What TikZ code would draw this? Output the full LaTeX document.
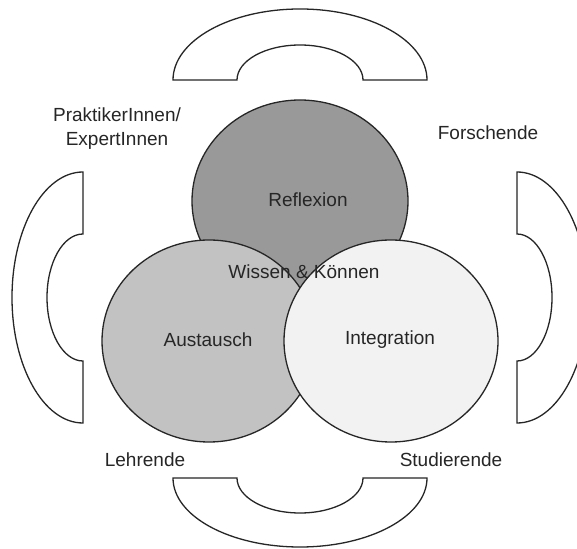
\documentclass[tikz,border=0pt]{standalone}
\usepackage{fontspec}
\setmainfont{Liberation Sans}
\begin{document}
\begin{tikzpicture}[x=1pt,y=1pt,
  outline/.style={draw=black!85,line width=1.3pt},
  bracket/.style={outline,fill=white,line join=miter},
  sphere/.style={outline},
  lbl/.style={font=\fontsize{19}{24}\selectfont,text=black!85,inner sep=0pt},
  role/.style={lbl,align=center}]
\useasboundingbox (0,0) rectangle (577,548);
\clip (0,0) rectangle (577,548);
\fill[white] (0,0) rectangle (577,548);

% curved brackets around the three spheres
\coordinate (topL) at (173,468);
\coordinate (botL) at (173,70);
\coordinate (leftT) at (83,376);
\coordinate (rightT) at (517,376);
\draw[bracket] (topL) arc[start angle=180,end angle=0,x radius=127,y radius=71]
  -- (363,468) arc[start angle=0,end angle=180,x radius=63,y radius=35] -- cycle;
\draw[bracket] (botL) arc[start angle=180,end angle=360,x radius=127,y radius=69]
  -- (363,70) arc[start angle=360,end angle=180,x radius=63,y radius=35] -- cycle;
\draw[bracket] (leftT) arc[start angle=90,end angle=270,x radius=71,y radius=125.5]
  -- (83,187) arc[start angle=270,end angle=90,x radius=36,y radius=63.5] -- cycle;
\draw[bracket] (rightT) arc[start angle=90,end angle=-90,x radius=71,y radius=125.5]
  -- (517,187) arc[start angle=-90,end angle=90,x radius=35,y radius=63.5] -- cycle;

% the three spheres
\coordinate (cR) at (300,347);
\coordinate (cA) at (209,207);
\coordinate (cI) at (391,207);
\draw[sphere,fill=black!40] (cR) ellipse[x radius=108,y radius=101];
\draw[sphere,fill=black!24] (cA) ellipse[x radius=107,y radius=101];
\draw[sphere,fill=black!5] (cI) ellipse[x radius=107,y radius=101];

\node[lbl] (refl) at (308,348) {Reflexion};
\node[lbl] (aust) at (208,208) {Austausch};
\node[lbl] (integ) at (390,208) {Integration};
\node[lbl] (wk) at (304,276) {Wissen \& Können};

% roles
\node[role] (prak) at (117,419) {PraktikerInnen/\\ExpertInnen};
\node[lbl] (forsch) at (488,415) {Forschende};
\node[lbl] (lehr) at (145,88) {Lehrende};
\node[lbl] (stud) at (451,88) {Studierende};
\end{tikzpicture}
\end{document}
